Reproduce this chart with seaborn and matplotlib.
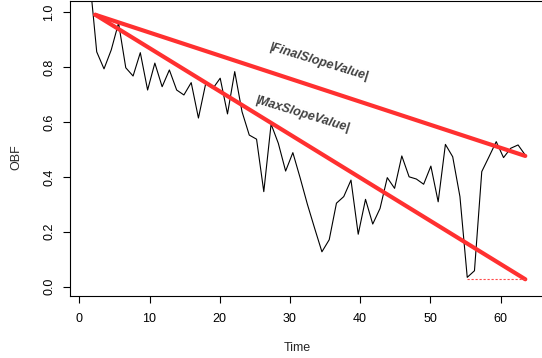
import matplotlib
matplotlib.use("Agg")
import matplotlib.pyplot as plt
import seaborn as sns
import pandas as pd

# ---------------- data ----------------
time = [1.45, 2.48, 3.52, 4.55, 5.59, 6.62, 7.66, 8.69, 9.73, 10.76,
        11.80, 12.83, 13.87, 14.90, 15.94, 16.97, 18.01, 19.04, 20.07, 21.11,
        22.14, 23.18, 24.21, 25.25, 26.28, 27.32, 28.35, 29.39, 30.42, 31.46,
        32.49, 33.53, 34.56, 35.60, 36.63, 37.67, 38.70, 39.73, 40.77, 41.80,
        42.84, 43.87, 44.91, 45.94, 46.98, 48.01, 49.05, 50.08, 51.12, 52.15,
        53.19, 54.22, 55.26, 56.29, 57.33, 58.36, 59.39, 60.43, 61.46, 62.50,
        63.53]
obf = [1.13, 0.855, 0.793, 0.862, 0.960, 0.797, 0.767, 0.852, 0.716, 0.814,
       0.728, 0.789, 0.716, 0.698, 0.743, 0.614, 0.740, 0.722, 0.759, 0.629,
       0.783, 0.637, 0.552, 0.537, 0.346, 0.592, 0.522, 0.421, 0.488, 0.396,
       0.300, 0.212, 0.127, 0.171, 0.304, 0.328, 0.388, 0.191, 0.318, 0.228,
       0.285, 0.397, 0.358, 0.476, 0.400, 0.392, 0.373, 0.439, 0.309, 0.518,
       0.473, 0.328, 0.034, 0.058, 0.419, 0.473, 0.528, 0.470, 0.504, 0.516,
       0.479]

slope_start_time = 2.28
slope_start_value = 0.99
slope_end_time = 63.53
final_value = 0.476
min_time = 55.26
min_value = 0.027

x_ticks = [0, 10, 20, 30, 40, 50, 60]
y_ticks = [0.0, 0.2, 0.4, 0.6, 0.8, 1.0]
y_tick_labels = ["0.0", "0.2", "0.4", "0.6", "0.8", "1.0"]
x_label = "Time"
y_label = "OBF"
final_label = "|FinalSlopeValue|"
max_label = "|MaxSlopeValue|"

# ---------------- style ----------------
sns.set_theme(style="ticks")
plt.rcParams['font.family'] = ['Liberation Sans', 'DejaVu Sans']

W, H = 542, 358
fig = plt.figure(figsize=(W / 100, H / 100), dpi=100)
ax = fig.add_axes([70 / W, (H - 296) / H, (W - 70) / W, (296 - 0.5) / H])

RED = "#FF3030"

series = pd.DataFrame({"Time": time, "OBF": obf})
sns.lineplot(data=series, x="Time", y="OBF", color="black", lw=0.8, ax=ax)

final_df = pd.DataFrame({"t": [slope_start_time, slope_end_time],
                         "v": [slope_start_value, final_value]})
max_df = pd.DataFrame({"t": [slope_start_time, slope_end_time],
                       "v": [slope_start_value, min_value]})
dot_df = pd.DataFrame({"t": [min_time, slope_end_time],
                       "v": [min_value, min_value]})

sns.lineplot(data=final_df, x="t", y="v", color=RED, lw=3.0,
             solid_capstyle="round", ax=ax)
sns.lineplot(data=max_df, x="t", y="v", color=RED, lw=3.0,
             solid_capstyle="round", ax=ax)
sns.lineplot(data=dot_df, x="t", y="v", color="#ff4a4a", lw=0.8,
             linestyle=(0, (2, 1.6)), ax=ax)

ax.text(34.1, 0.818, final_label, rotation=-17, fontsize=9,
        fontweight="bold", fontstyle="italic", color="#404040",
        ha="center", va="center", rotation_mode="anchor")
ax.text(31.8, 0.626, max_label, rotation=-17, fontsize=9,
        fontweight="bold", fontstyle="italic", color="#404040",
        ha="center", va="center", rotation_mode="anchor")

ax.set_xlim(-1.325, 65.91)
ax.set_ylim(-0.0339, 1.0419)
ax.set_xticks(x_ticks)
ax.set_xticklabels([str(v) for v in x_ticks])
ax.set_yticks(y_ticks)
ax.set_yticklabels(y_tick_labels, rotation=90, va="center")

ax.set_facecolor("white")
for side in ["left", "bottom", "top"]:
    ax.spines[side].set_visible(True)
    ax.spines[side].set_linewidth(0.8)
    ax.spines[side].set_color("black")
ax.spines["right"].set_visible(False)

ax.tick_params(axis="both", direction="out", length=5, width=0.8,
               colors="black", labelsize=9)
ax.tick_params(axis="x", pad=7.5)
ax.tick_params(axis="y", pad=5.5)
ax.tick_params(top=False, right=False)

ax.set_xlabel(x_label, fontsize=9)
ax.set_ylabel(y_label, fontsize=9)
ax.xaxis.set_label_coords((297.7 - 70) / 472, (296 - 348.3) / 295.5)
ax.xaxis.label.set_va("center")
ax.yaxis.set_label_coords((16 - 70) / 472, (296 - 156.7) / 295.5)
ax.yaxis.label.set_va("center")
ax.grid(False)

fig.savefig("out.png", dpi=100)
